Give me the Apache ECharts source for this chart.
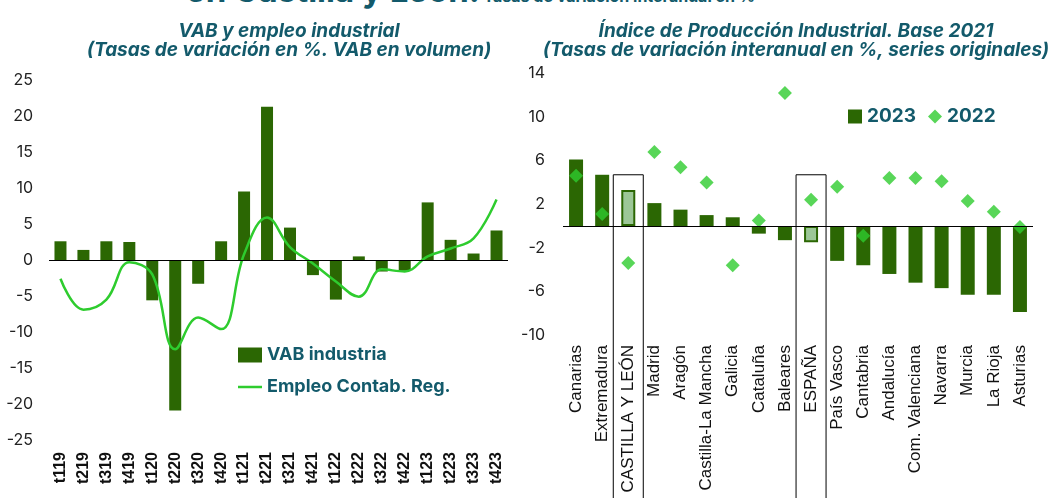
<!DOCTYPE html>
<html lang="es">
<head>
<meta charset="UTF-8">
<script src="https://cdn.jsdelivr.net/npm/echarts@6/dist/echarts.min.js"></script>
<style>
    html, body { margin: 0; padding: 0; background: #fff; overflow: hidden; }
    #main { width: 1054px; height: 498px; }
    /* titulo general, cortado por arriba como en el original */
    #titulo {
        position: absolute;
        left: 186px;
        top: -26px;
        white-space: nowrap;
        font-family: Inter, sans-serif;
        font-weight: bold;
        color: #135a6b;
        line-height: 33px;
    }
    #titulo .a { font-size: 33px; }
    #titulo .b { font-size: 16px; }
</style>
</head>
<body>
<div id="titulo"><span class="a">en Castilla y León.</span> <span class="b">Tasas de variación interanual en %</span></div>
<div id="main"></div>
<script>
    // grafico izquierdo: VAB y empleo industrial
    var trimestres = ['t119', 't219', 't319', 't419', 't120', 't220', 't320', 't420', 't121', 't221',
        't321', 't421', 't122', 't222', 't322', 't422', 't123', 't223', 't323', 't423'];
    var vabIndustria = [2.6, 1.4, 2.6, 2.5, -5.6, -20.9, -3.3, 2.6, 9.5, 21.3,
        4.5, -2.1, -5.5, 0.5, -1.6, -1.5, 8.0, 2.8, 0.9, 4.1];
    var empleoContab = [-2.6, -6.9, -5.5, -0.3, -2.0, -12.4, -8.0, -9.6, 0.8, 5.9,
        1.8, -0.5, -3.0, -5.1, -1.3, -1.6, 0.5, 1.6, 3.0, 8.4];

    // grafico derecho: IPI por CCAA
    var regiones = ['Canarias', 'Extremadura', 'CASTILLA Y LEÓN', 'Madrid', 'Aragón', 'Castilla-La Mancha',
        'Galicia', 'Cataluña', 'Baleares', 'ESPAÑA', 'País Vasco', 'Cantabria', 'Andalucía',
        'Com. Valenciana', 'Navarra', 'Murcia', 'La Rioja', 'Asturias'];
    var ipi2023 = [6.1, 4.7, 3.3, 2.1, 1.5, 1.0, 0.8, -0.7, -1.3, -1.5,
        -3.2, -3.6, -4.4, -5.2, -5.7, -6.3, -6.3, -7.9];
    var ipi2022 = [4.6, 1.1, -3.4, 6.8, 5.4, 4.0, -3.6, 0.5, 12.2, 2.4,
        3.6, -0.9, 4.4, 4.4, 4.1, 2.3, 1.3, -0.1];
    var destacadas = ['CASTILLA Y LEÓN', 'ESPAÑA'];

    var verdeOscuro = '#2b6703';
    var verdeClaro = '#2ecc2e';
    var azulTexto = '#135a6b';
    var fuente = 'Inter, "Noto Sans", sans-serif';
    var fuenteArial = '"Liberation Sans", Arial, sans-serif';

    var myChart = echarts.init(document.getElementById('main'));

    var datos2023 = ipi2023.map(function (v, i) {
        if (destacadas.indexOf(regiones[i]) >= 0) {
            return { value: v, itemStyle: { color: '#9cc797', borderColor: verdeOscuro, borderWidth: 2 } };
        }
        return v;
    });

    var lineaCero = {
        silent: true,
        symbol: 'none',
        label: { show: false },
        lineStyle: { color: '#000', width: 1, type: 'solid' },
        data: [{ yAxis: 0 }]
    };

    var tituloEstilo = { fontFamily: fuente, fontSize: 19, fontWeight: 'bold', fontStyle: 'italic', color: azulTexto };

    var option = {
        animation: false,
        textStyle: { fontFamily: fuente },
        title: [
            { text: 'VAB y empleo industrial', left: 284, top: 17, textAlign: 'center', textStyle: tituloEstilo },
            { text: '(Tasas de variación en %. VAB en volumen)', left: 284, top: 36, textAlign: 'center', textStyle: tituloEstilo },
            { text: 'Índice de Producción Industrial. Base 2021', left: 791, top: 17, textAlign: 'center', textStyle: tituloEstilo },
            { text: '(Tasas de variación interanual en %, series originales)', left: 791, top: 36, textAlign: 'center', textStyle: tituloEstilo }
        ],
        legend: [
            {
                orient: 'vertical',
                left: 238,
                top: 346,
                padding: 0,
                itemWidth: 24,
                itemHeight: 15,
                itemGap: 14,
                textStyle: { fontFamily: fuente, fontSize: 18, fontWeight: 'bold', color: azulTexto },
                data: [
                    { name: 'VAB industria', icon: 'rect' },
                    { name: 'Empleo Contab. Reg.', icon: 'path://M0,0 L24,0 L24,2.5 L0,2.5 Z' }
                ]
            },
            {
                orient: 'horizontal',
                left: 848,
                top: 107,
                padding: 0,
                itemWidth: 14,
                itemHeight: 14,
                itemGap: 12,
                textStyle: { fontFamily: fuente, fontSize: 19, fontWeight: 'bold', color: azulTexto },
                data: [
                    { name: '2023', icon: 'rect' },
                    { name: '2022', icon: 'diamond' }
                ]
            }
        ],
        grid: [
            { left: 49, top: 80, width: 459, height: 360 },
            { left: 563, top: 73.4, width: 470, height: 261.6 }
        ],
        xAxis: [
            {
                type: 'category',
                gridIndex: 0,
                data: trimestres,
                axisLine: { show: false },
                axisTick: { show: false },
                axisLabel: { rotate: 90, margin: 12, fontSize: 16, fontWeight: 'bold', color: '#111', fontFamily: fuenteArial }
            },
            {
                type: 'category',
                gridIndex: 1,
                data: regiones,
                axisLine: { show: false },
                axisTick: { show: false },
                axisLabel: { rotate: 90, margin: 10, fontSize: 17, color: '#111', fontFamily: fuenteArial }
            }
        ],
        yAxis: [
            {
                type: 'value',
                gridIndex: 0,
                min: -25,
                max: 25,
                interval: 5,
                splitLine: { show: false },
                axisLine: { show: false },
                axisTick: { show: false },
                axisLabel: { fontSize: 16, color: '#222', margin: 16, fontFamily: fuente }
            },
            {
                type: 'value',
                gridIndex: 1,
                min: -10,
                max: 14,
                interval: 4,
                splitLine: { show: false },
                axisLine: { show: false },
                axisTick: { show: false },
                axisLabel: { fontSize: 16, color: '#222', margin: 18, fontFamily: fuente }
            }
        ],
        series: [
            {
                name: 'VAB industria',
                type: 'bar',
                xAxisIndex: 0,
                yAxisIndex: 0,
                barWidth: 12,
                itemStyle: { color: verdeOscuro },
                data: vabIndustria,
                markLine: lineaCero,
                z: 2
            },
            {
                name: 'Empleo Contab. Reg.',
                type: 'line',
                xAxisIndex: 0,
                yAxisIndex: 0,
                smooth: 0.4,
                symbol: 'none',
                lineStyle: { color: verdeClaro, width: 2.5 },
                itemStyle: { color: verdeClaro },
                data: empleoContab,
                z: 3
            },
            {
                name: '2023',
                type: 'bar',
                xAxisIndex: 1,
                yAxisIndex: 1,
                barWidth: 14,
                itemStyle: { color: verdeOscuro },
                data: datos2023,
                markLine: lineaCero,
                z: 2
            },
            {
                name: '2022',
                type: 'scatter',
                xAxisIndex: 1,
                yAxisIndex: 1,
                symbol: 'diamond',
                symbolSize: 14,
                itemStyle: { color: verdeClaro },
                data: ipi2022,
                z: 3
            }
        ]
    };
    myChart.setOption(option);

    // recuadros de CyL y España, calculados con los ejes
    var recuadros = destacadas.map(function (nombre) {
        var cx = myChart.convertToPixel({ xAxisIndex: 1 }, nombre);
        var y0 = myChart.convertToPixel({ yAxisIndex: 1 }, 4.7);
        return {
            type: 'rect',
            shape: { x: cx - 15, y: y0, width: 30, height: 400 },
            style: { fill: 'none', stroke: '#000', lineWidth: 1 },
            z: 10
        };
    });
    myChart.setOption({ graphic: recuadros });
</script>
</body>
</html>
